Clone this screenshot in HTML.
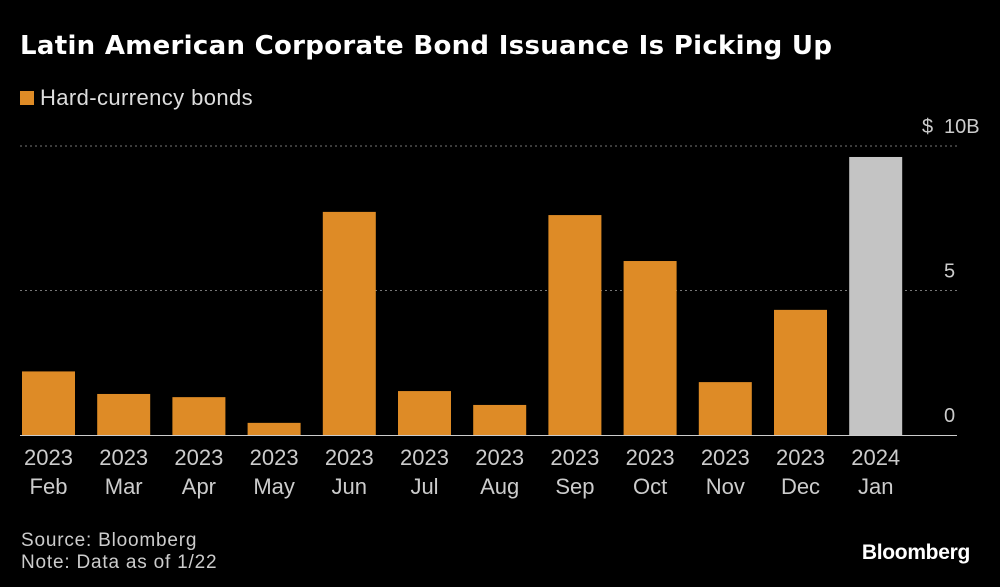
<!DOCTYPE html>
<html><head><meta charset="utf-8"><style>
html,body{margin:0;padding:0;background:#000;}
body{width:1000px;height:587px;overflow:hidden;font-family:"Liberation Sans",sans-serif;color:#fff;position:relative;}
.t{position:absolute;white-space:nowrap;}
</style></head><body>
<div class="t" style="left:20px;top:31px;font-size:26px;font-weight:bold;font-family:'DejaVu Sans',sans-serif;letter-spacing:0.3px;">Latin American Corporate Bond Issuance Is Picking Up</div>
<div class="t" style="left:20px;top:85px;font-size:22px;color:#ddd;letter-spacing:0.4px;"><span style="display:inline-block;width:14px;height:14px;background:#de8b26;margin-right:6px;vertical-align:0px;"></span>Hard-currency bonds</div>
<svg id="chart" width="1000" height="587" style="position:absolute;left:0;top:0;"></svg>
<div class="t" style="left:21px;top:530px;font-size:19px;color:#ccc;line-height:22px;letter-spacing:0.8px;">Source: Bloomberg<br>Note: Data as of 1/22</div>
<div class="t" style="right:30px;top:541px;font-size:21px;font-weight:bold;letter-spacing:-0.3px;">Bloomberg</div>
<script>
const years=["2023","2023","2023","2023","2023","2023","2023","2023","2023","2023","2023","2024"];
const months=["Feb","Mar","Apr","May","Jun","Jul","Aug","Sep","Oct","Nov","Dec","Jan"];
const values=[2.2,1.42,1.31,0.42,7.72,1.52,1.04,7.61,6.02,1.83,4.33,9.62];
const tickValues=[0,5,10];
const tickLabels=["0","5","10B"];
const svg=document.getElementById('chart');
const NS='http://www.w3.org/2000/svg';
const y=v=>435-v*28.9;
const x=i=>22+i*75.2;
const bw=53;
function mk(t,a){const e=document.createElementNS(NS,t);for(const k in a)e.setAttribute(k,a[k]);svg.appendChild(e);return e;}
tickValues.forEach((v,i)=>{
  if(v>0){const g=mk('line',{x1:20,x2:957,y1:y(v),y2:y(v),stroke:'#777','stroke-dasharray':'2,3','stroke-width':1});
  
  }
  const t=mk('text',{x:944,y:y(v)-13,'text-anchor':'start','font-size':20,fill:'#ccc','font-family':'Liberation Sans, sans-serif'});
  t.textContent=tickLabels[i];
  
  
});
const d=mk('text',{x:922,y:y(10)-13,'font-size':20,fill:'#ccc','font-family':'Liberation Sans, sans-serif'});
d.textContent='$';


values.forEach((v,i)=>{
  const r=mk('rect',{x:x(i),y:y(v),width:bw,height:435-y(v),fill:i==values.length-1?'#c4c4c4':'#de8b26'});
  
  
  const t1=mk('text',{x:x(i)+bw/2,y:465,'text-anchor':'middle','font-size':22,fill:'#ccc','font-family':'Liberation Sans, sans-serif'});
  t1.textContent=years[i];
  
  
  const t2=mk('text',{x:x(i)+bw/2,y:494,'text-anchor':'middle','font-size':22,fill:'#ccc','font-family':'Liberation Sans, sans-serif'});
  t2.textContent=months[i];
  
  
});
const b=mk('line',{x1:20,x2:957,y1:435.5,y2:435.5,stroke:'#ccc','stroke-width':1});


</script>
</body></html>
